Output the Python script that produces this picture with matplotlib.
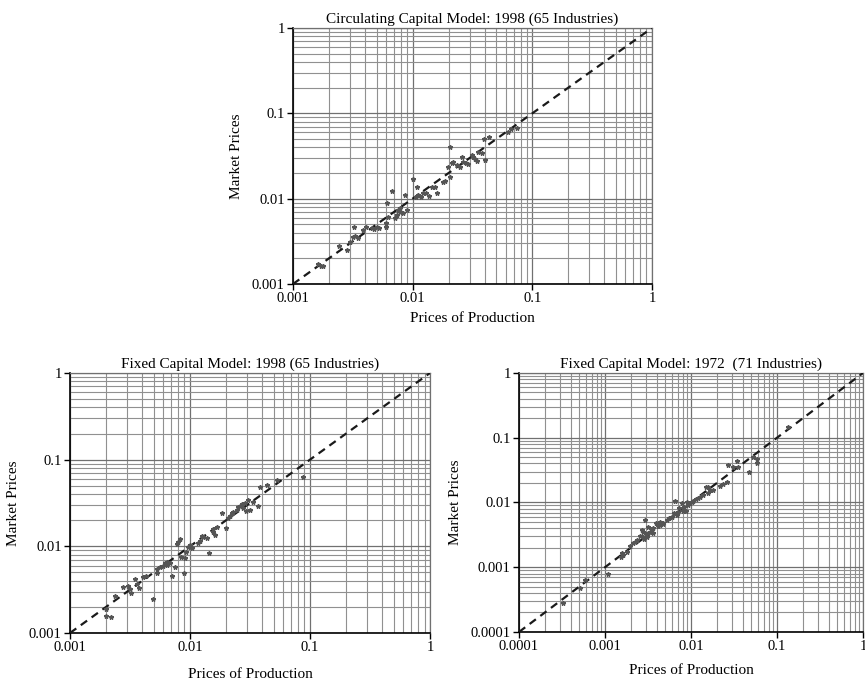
import numpy as np
import matplotlib
matplotlib.use('Agg')
import matplotlib.pyplot as plt
from matplotlib.ticker import LogLocator, FuncFormatter, NullFormatter

plt.rcParams['font.family'] = ['Liberation Serif', 'DejaVu Serif']

# circulating capital model, 1998 (65 industries)
circ98_prod = [0.00163, 0.00170, 0.00177, 0.00244, 0.00281, 0.00299, 0.00315, 0.00323, 0.00330, 0.00351,
               0.00382, 0.00407, 0.00454, 0.00475, 0.00526, 0.00598, 0.00598, 0.00607, 0.00626, 0.00671,
               0.00711, 0.00735, 0.00759, 0.00783, 0.00825, 0.00867, 0.00891, 0.0100, 0.0107, 0.0109,
               0.0111, 0.0117, 0.0123, 0.0129, 0.0138, 0.0144, 0.0154, 0.0161, 0.0178, 0.0186,
               0.0205, 0.0205, 0.0212, 0.0216, 0.0248, 0.0257, 0.0265, 0.0279, 0.0292, 0.0311,
               0.0321, 0.0331, 0.0343, 0.0353, 0.0377, 0.0394, 0.0402, 0.0437, 0.0629, 0.0659,
               0.0739, 0.0199, 0.0233, 0.00783, 0.00506]
circ98_mkt = [0.00171, 0.00164, 0.00164, 0.00279, 0.00250, 0.00313, 0.00359, 0.00462, 0.00365, 0.00343,
              0.00430, 0.00470, 0.00450, 0.00441, 0.00450, 0.00470, 0.00514, 0.00883, 0.00605, 0.0124,
              0.00589, 0.00644, 0.00737, 0.00705, 0.00674, 0.0110, 0.00737, 0.0169, 0.0104, 0.0136,
              0.0110, 0.0106, 0.0118, 0.0116, 0.0108, 0.0136, 0.0138, 0.0118, 0.0158, 0.0163,
              0.0407, 0.0178, 0.0260, 0.0272, 0.0237, 0.0311, 0.0272, 0.0264, 0.0255, 0.0325,
              0.0305, 0.0290, 0.0277, 0.0356, 0.0346, 0.0497, 0.0284, 0.0533, 0.0611, 0.0651,
              0.0669, 0.0237, 0.0248, 0.00771, 0.00470]

# fixed capital model, 1998 (65 industries)
fix98_prod = [0.00200, 0.00218, 0.00200, 0.00237, 0.00306, 0.00316, 0.00321, 0.00348, 0.00378, 0.00408,
              0.00430, 0.00489, 0.00528, 0.00562, 0.00599, 0.00639, 0.00647, 0.00704, 0.00681, 0.00775,
              0.00826, 0.00836, 0.00891, 0.00908, 0.00926, 0.00968, 0.0100, 0.0117, 0.0121, 0.0125,
              0.0129, 0.0145, 0.0156, 0.0162, 0.0167, 0.0184, 0.0200, 0.0215, 0.0222, 0.0230,
              0.0245, 0.0261, 0.0270, 0.0287, 0.0293, 0.0306, 0.0316, 0.0371, 0.0383, 0.0441,
              0.0528, 0.0880, 0.00750, 0.0138, 0.0209, 0.0275, 0.00528, 0.00359, 0.0103, 0.0253,
              0.00619, 0.0155, 0.00275, 0.0080, 0.0337]
fix98_mkt = [0.00157, 0.00154, 0.00187, 0.00269, 0.00351, 0.00319, 0.00292, 0.00416, 0.00327, 0.00447,
             0.00458, 0.00245, 0.00497, 0.00572, 0.00593, 0.00665, 0.00609, 0.00454, 0.00647, 0.0106,
             0.0120, 0.00746, 0.00488, 0.00739, 0.00867, 0.00991, 0.0104, 0.0108, 0.0116, 0.0131,
             0.0129, 0.00845, 0.0157, 0.0135, 0.0166, 0.0240, 0.0161, 0.0224, 0.0240, 0.0251,
             0.0262, 0.0292, 0.0308, 0.0319, 0.0258, 0.0342, 0.0262, 0.0292, 0.0488, 0.0509,
             0.0582, 0.0625, 0.00582, 0.0124, 0.0210, 0.0274, 0.00542, 0.00367, 0.00948, 0.0281,
             0.00636, 0.0148, 0.00341, 0.0113, 0.0327]

# fixed capital model, 1972 (71 industries)
fix72_prod = [0.000322, 0.000512, 0.000585, 0.00109, 0.00152, 0.00156, 0.00179, 0.00195, 0.00223, 0.00267,
              0.00279, 0.00284, 0.00292, 0.00300, 0.00319, 0.00334, 0.00358, 0.00365, 0.00392, 0.00417,
              0.00436, 0.00469, 0.00596, 0.00634, 0.00652, 0.00681, 0.00731, 0.00780, 0.00800, 0.00829,
              0.00875, 0.00931, 0.00973, 0.0106, 0.0114, 0.0127, 0.0149, 0.0159, 0.0159, 0.0166,
              0.0234, 0.0260, 0.0272, 0.0340, 0.0355, 0.0476, 0.0580, 0.0590, 0.135, 0.00255,
              0.00305, 0.00349, 0.00477, 0.00560, 0.00891, 0.0122, 0.0137, 0.0182, 0.0217, 0.00234,
              0.00213, 0.00163, 0.0311, 0.0530, 0.00319, 0.00711, 0.0102, 0.00436, 0.00521, 0.00815,
              0.00274]
fix72_mkt = [0.000277, 0.000473, 0.000635, 0.000787, 0.00142, 0.00164, 0.00174, 0.00215, 0.00248, 0.00376,
             0.00297, 0.00270, 0.00537, 0.00326, 0.00423, 0.00354, 0.00334, 0.00399, 0.00488, 0.00434,
             0.00449, 0.00477, 0.00590, 0.00680, 0.0107, 0.00641, 0.00813, 0.00971, 0.00748, 0.00863,
             0.00748, 0.00915, 0.00993, 0.0107, 0.0112, 0.0120, 0.0175, 0.0175, 0.0139, 0.0156,
             0.0193, 0.0210, 0.0379, 0.0442, 0.0357, 0.0299, 0.0464, 0.0412, 0.145, 0.00304,
             0.00297, 0.00385, 0.00466, 0.00570, 0.0103, 0.0116, 0.0131, 0.0156, 0.0180, 0.00264,
             0.00234, 0.00155, 0.0349, 0.0499, 0.00340, 0.00721, 0.0103, 0.00506, 0.00537, 0.00813,
             0.00354]

fig = plt.figure(figsize=(8.65, 6.85), dpi=100)


def panel(rect, xs, ys, lo, title, xpad):
    ax = fig.add_axes(rect)
    ax.set_xscale('log')
    ax.set_yscale('log')
    ax.set_xlim(lo, 1)
    ax.set_ylim(lo, 1)
    for axis in (ax.xaxis, ax.yaxis):
        axis.set_major_locator(LogLocator(base=10, numticks=10))
        axis.set_minor_locator(LogLocator(base=10, subs=np.arange(2, 10), numticks=20))
        axis.set_major_formatter(FuncFormatter(lambda v, p: '%g' % v))
        axis.set_minor_formatter(NullFormatter())
    ax.grid(True, which='major', color='#707070', lw=0.9)
    ax.grid(True, which='minor', color='#909090', lw=0.8)
    ax.set_axisbelow(True)
    ax.tick_params(which='major', direction='out', length=4, width=1, labelsize=10.5, pad=2)
    ax.tick_params(which='minor', length=0)
    for s in ('top', 'right'):
        ax.spines[s].set_color('#707070')
        ax.spines[s].set_linewidth(0.9)
    for s in ('left', 'bottom'):
        ax.spines[s].set_color('black')
        ax.spines[s].set_linewidth(1.2)
    ax.plot([lo, 1], [lo, 1], color='#1a1a1a', ls=(0, (3.5, 2.5)), lw=1.6, zorder=3)
    ax.plot(xs, ys, ls='none', marker='*', ms=3.3, color='#555555', mec='#555555', zorder=4)
    ax.set_title(title, fontsize=11, pad=4)
    ax.set_xlabel('Prices of Production', fontsize=11, labelpad=xpad)
    ax.set_ylabel('Market Prices', fontsize=11, labelpad=6)
    return ax


panel([0.3387, 0.5854, 0.4150, 0.3737], circ98_prod, circ98_mkt, 0.001,
      'Circulating Capital Model: 1998 (65 Industries)', 5)
panel([0.0809, 0.0759, 0.4162, 0.3796], fix98_prod, fix98_mkt, 0.001,
      'Fixed Capital Model: 1998 (65 Industries)', 10)
panel([0.6000, 0.0774, 0.3977, 0.3781], fix72_prod, fix72_mkt, 0.0001,
      'Fixed Capital Model: 1972  (71 Industries)', 8)

plt.savefig('out.png', dpi=100)
